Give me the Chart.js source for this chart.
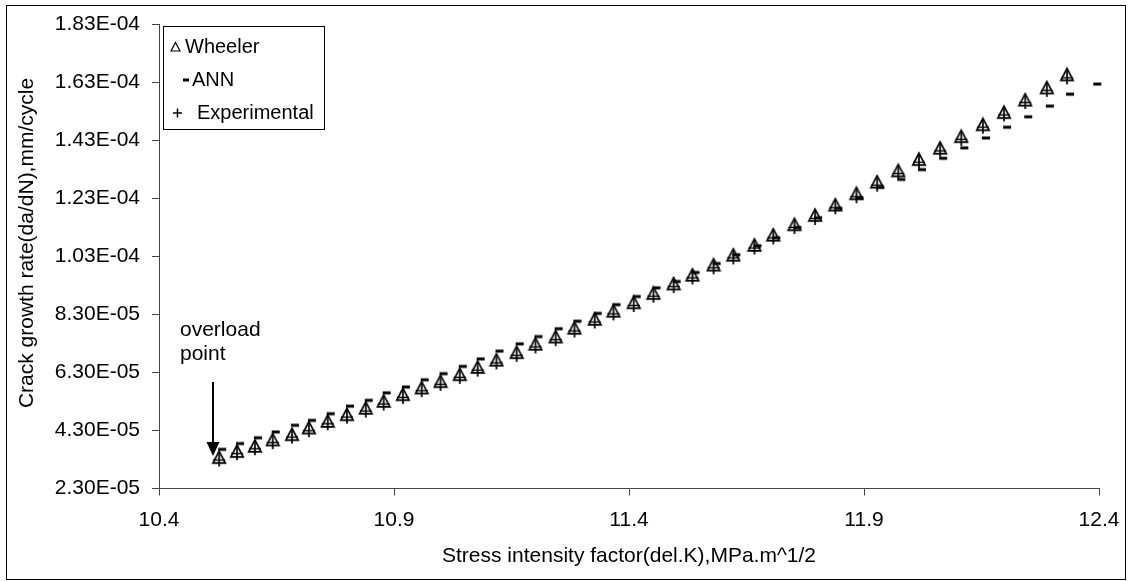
<!DOCTYPE html>
<html>
<head>
<meta charset="utf-8">
<script src="https://cdn.jsdelivr.net/npm/chart.js@4.4.1/dist/chart.umd.min.js"></script>
<style>
  html, body { margin: 0; padding: 0; background: #fff; }
  #crackChart { display: block; }
</style>
</head>
<body>
<canvas id="crackChart" width="1132" height="581"></canvas>
<script>
// Stress intensity factor (del.K), MPa.m^1/2
const stressK = [10.528, 10.566, 10.604, 10.642, 10.683, 10.719, 10.759, 10.800, 10.840, 10.878,
                 10.919, 10.959, 10.999, 11.040, 11.078, 11.118, 11.161, 11.201, 11.244, 11.284,
                 11.327, 11.367, 11.410, 11.452, 11.495, 11.535, 11.580, 11.622, 11.667, 11.707,
                 11.752, 11.796, 11.839, 11.884, 11.928, 11.973, 12.017, 12.062, 12.107, 12.153,
                 12.198, 12.243, 12.289, 12.332];
// the ANN run has one more point at the end of the range
const annK = stressK.concat([12.39]);

// Crack growth rate da/dN, mm/cycle
const wheeler = [3.38e-5, 3.59e-5, 3.77e-5, 3.99e-5, 4.17e-5, 4.40e-5, 4.63e-5, 4.86e-5, 5.08e-5, 5.32e-5,
                 5.55e-5, 5.78e-5, 6.00e-5, 6.24e-5, 6.49e-5, 6.74e-5, 7.00e-5, 7.29e-5, 7.54e-5, 7.84e-5,
                 8.15e-5, 8.43e-5, 8.72e-5, 9.04e-5, 9.37e-5, 9.67e-5, 1.002e-4, 1.036e-4, 1.070e-4, 1.105e-4,
                 1.141e-4, 1.173e-4, 1.209e-4, 1.248e-4, 1.288e-4, 1.327e-4, 1.366e-4, 1.405e-4, 1.445e-4, 1.486e-4,
                 1.528e-4, 1.571e-4, 1.613e-4, 1.658e-4];
const ann = [3.65e-5, 3.85e-5, 4.05e-5, 4.25e-5, 4.48e-5, 4.65e-5, 4.88e-5, 5.14e-5, 5.34e-5, 5.60e-5,
             5.80e-5, 6.05e-5, 6.26e-5, 6.51e-5, 6.77e-5, 7.04e-5, 7.29e-5, 7.54e-5, 7.81e-5, 8.07e-5,
             8.34e-5, 8.64e-5, 8.92e-5, 9.22e-5, 9.44e-5, 9.75e-5, 1.006e-4, 1.036e-4, 1.067e-4, 1.095e-4,
             1.130e-4, 1.164e-4, 1.196e-4, 1.232e-4, 1.269e-4, 1.296e-4, 1.330e-4, 1.369e-4, 1.405e-4, 1.439e-4,
             1.476e-4, 1.512e-4, 1.549e-4, 1.590e-4, 1.625e-4];
const experimental = [3.30e-5, 3.52e-5, 3.69e-5, 3.90e-5, 4.09e-5, 4.31e-5, 4.55e-5, 4.78e-5, 4.99e-5, 5.23e-5,
                      5.46e-5, 5.69e-5, 5.91e-5, 6.15e-5, 6.40e-5, 6.65e-5, 6.91e-5, 7.20e-5, 7.45e-5, 7.75e-5,
                      8.06e-5, 8.34e-5, 8.63e-5, 8.95e-5, 9.28e-5, 9.58e-5, 9.93e-5, 1.027e-4, 1.061e-4, 1.096e-4,
                      1.132e-4, 1.163e-4, 1.200e-4, 1.238e-4, 1.278e-4, 1.318e-4, 1.357e-4, 1.396e-4, 1.436e-4, 1.478e-4,
                      1.520e-4, 1.563e-4, 1.605e-4, 1.648e-4];

// axis ticks
const xTicks = [10.4, 10.9, 11.4, 11.9, 12.4];
const yTicks = [2.3e-5, 4.3e-5, 6.3e-5, 8.3e-5, 1.03e-4, 1.23e-4, 1.43e-4, 1.63e-4, 1.83e-4];
const yTickLabels = ['2.30E-05', '4.30E-05', '6.30E-05', '8.30E-05', '1.03E-04',
                     '1.23E-04', '1.43E-04', '1.63E-04', '1.83E-04'];

const FONT = '"Liberation Sans", Arial, sans-serif';

function pairs(xs, ys) {
    return ys.map((y, i) => ({ x: xs[i], y: y }));
}

// hollow triangle marker, centred on its bounding box
function triangleMarker() {
    const c = document.createElement('canvas');
    c.width = 16; c.height = 16;
    const g = c.getContext('2d');
    g.strokeStyle = '#000';
    g.lineWidth = 1.7;
    g.beginPath();
    g.moveTo(8, 2);
    g.lineTo(1.8, 13.8);
    g.lineTo(14.2, 13.8);
    g.closePath();
    g.stroke();
    return c;
}

// short thick dash, sitting a little right of the point
function dashMarker() {
    const c = document.createElement('canvas');
    c.width = 20; c.height = 6;
    const g = c.getContext('2d');
    g.fillStyle = '#000';
    g.fillRect(9, 1.5, 8, 3);
    return c;
}

function plusMarker() {
    const c = document.createElement('canvas');
    c.width = 14; c.height = 16;
    const g = c.getContext('2d');
    g.strokeStyle = '#000';
    g.lineWidth = 1.7;
    g.beginPath();
    g.moveTo(7, 1); g.lineTo(7, 15);
    g.moveTo(1, 8.5); g.lineTo(13, 8.5);
    g.stroke();
    return c;
}

// titles, legend box, overload note and the outer frame
const decorations = {
    id: 'decorations',
    afterDraw(chart) {
        const ctx = chart.ctx;
        ctx.save();
        ctx.fillStyle = '#000';
        ctx.strokeStyle = '#000';

        // outer frame
        ctx.lineWidth = 1;
        ctx.strokeRect(6.5, 5.5, 1119, 574);

        // axis titles
        ctx.font = '21px ' + FONT;
        ctx.textAlign = 'center';
        ctx.textBaseline = 'middle';
        ctx.fillText('Stress intensity factor(del.K),MPa.m^1/2', 629, 556);
        ctx.save();
        ctx.translate(27, 243);
        ctx.rotate(-Math.PI / 2);
        ctx.fillText('Crack growth rate(da/dN),mm/cycle', 0, 0);
        ctx.restore();

        // legend
        ctx.fillStyle = '#fff';
        ctx.fillRect(163.5, 26.5, 161, 103);
        ctx.fillStyle = '#000';
        ctx.strokeRect(163.5, 26.5, 161, 103);
        ctx.font = '20px ' + FONT;
        ctx.textAlign = 'left';
        ctx.fillText('Wheeler', 185, 47);
        ctx.fillText('ANN', 192, 80);
        ctx.fillText('Experimental', 197, 113);
        ctx.lineWidth = 1.2;
        ctx.beginPath();
        ctx.moveTo(175.5, 42.5);
        ctx.lineTo(171, 51);
        ctx.lineTo(180, 51);
        ctx.closePath();
        ctx.stroke();
        ctx.fillRect(183, 78.5, 6, 3);
        ctx.lineWidth = 1.5;
        ctx.beginPath();
        ctx.moveTo(177.5, 108.5); ctx.lineTo(177.5, 117.5);
        ctx.moveTo(173, 113); ctx.lineTo(182, 113);
        ctx.stroke();

        // overload note with arrow
        ctx.font = '21px ' + FONT;
        ctx.fillText('overload', 180, 330);
        ctx.fillText('point', 180, 354);
        ctx.lineWidth = 2;
        ctx.beginPath();
        ctx.moveTo(213, 382);
        ctx.lineTo(213, 443);
        ctx.stroke();
        ctx.beginPath();
        ctx.moveTo(206.5, 442);
        ctx.lineTo(219.5, 442);
        ctx.lineTo(213, 456);
        ctx.closePath();
        ctx.fill();

        ctx.restore();
    }
};

const ctx = document.getElementById('crackChart').getContext('2d');
new Chart(ctx, {
    type: 'scatter',
    data: {
        datasets: [
            {
                label: 'Wheeler',
                data: pairs(stressK, wheeler),
                pointStyle: triangleMarker(),
                pointRadius: 7,
                showLine: false,
                clip: false
            },
            {
                label: 'ANN',
                data: pairs(annK, ann),
                pointStyle: dashMarker(),
                pointRadius: 7,
                showLine: false,
                clip: false
            },
            {
                label: 'Experimental',
                data: pairs(stressK, experimental),
                pointStyle: plusMarker(),
                pointRadius: 7,
                showLine: false,
                clip: false
            }
        ]
    },
    options: {
        responsive: false,
        animation: false,
        devicePixelRatio: 1,
        layout: { padding: { left: 0, right: 33, top: 23, bottom: 0 } },
        plugins: {
            legend: { display: false },
            tooltip: { enabled: false }
        },
        scales: {
            x: {
                type: 'linear',
                min: 10.4,
                max: 12.4,
                afterBuildTicks: function(scale) {
                    scale.ticks = xTicks.map(v => ({ value: v }));
                },
                afterFit: function(scale) {
                    scale.height = 92.5;
                },
                ticks: {
                    color: '#000',
                    font: { family: FONT, size: 21 },
                    padding: 12,
                    maxRotation: 0,
                    callback: function(value) {
                        return Number(value).toFixed(1);
                    }
                },
                grid: {
                    drawOnChartArea: false,
                    drawTicks: true,
                    tickLength: 7,
                    tickColor: '#444'
                },
                border: { display: true, color: '#444', width: 1 }
            },
            y: {
                type: 'linear',
                min: 2.3e-5,
                max: 1.83e-4,
                afterBuildTicks: function(scale) {
                    scale.ticks = yTicks.map(v => ({ value: v }));
                },
                afterFit: function(scale) {
                    scale.width = 159;
                },
                ticks: {
                    color: '#000',
                    font: { family: FONT, size: 21 },
                    padding: 12,
                    callback: function(value, index) {
                        return yTickLabels[index];
                    }
                },
                grid: {
                    drawOnChartArea: false,
                    drawTicks: true,
                    tickLength: 7,
                    tickColor: '#444'
                },
                border: { display: true, color: '#444', width: 1 }
            }
        }
    },
    plugins: [decorations]
});
</script>
</body>
</html>
